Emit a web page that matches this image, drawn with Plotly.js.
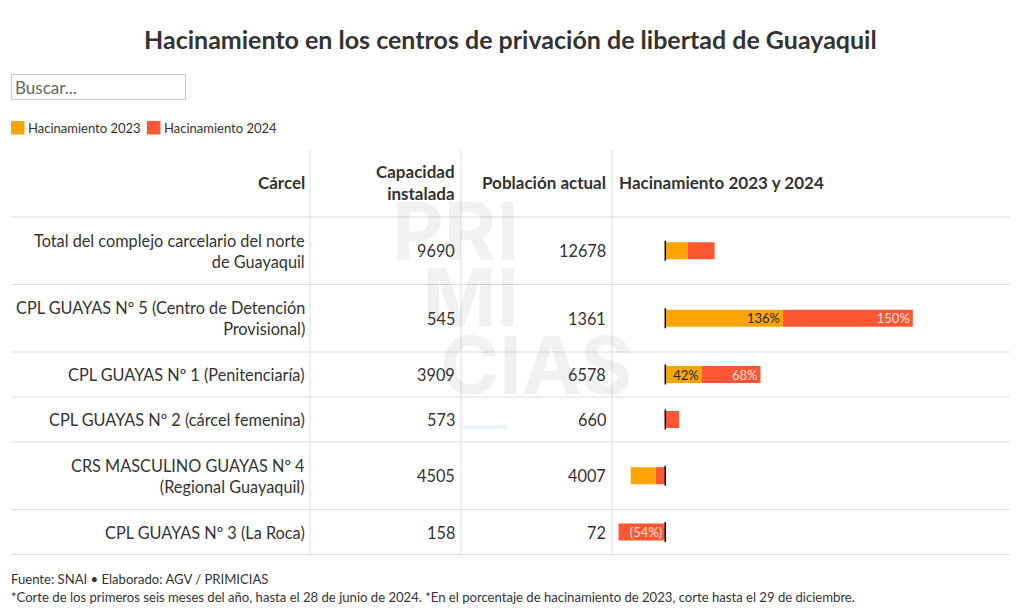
<!DOCTYPE html>
<html>
<head>
<meta charset="utf-8">
<script src="https://cdn.plot.ly/plotly-3.0.1.min.js"></script>
<style>
  html, body { margin: 0; padding: 0; background: #fff; }
  #chart { width: 1020px; height: 616px; }
</style>
</head>
<body>
<div id="chart"></div>
<script>
// ---- Data ----
const titulo = "Hacinamiento en los centros de privación de libertad de Guayaquil";
const carcel = [
  "Total del complejo carcelario del norte<br>de Guayaquil",
  "CPL GUAYAS Nº 5 (Centro de Detención<br>Provisional)",
  "CPL GUAYAS Nº 1 (Penitenciaría)",
  "CPL GUAYAS Nº 2 (cárcel femenina)",
  "CRS MASCULINO GUAYAS Nº 4<br>(Regional Guayaquil)",
  "CPL GUAYAS Nº 3 (La Roca)"
];
const capacidad = [9690, 545, 3909, 573, 4505, 158];
const poblacion = [12678, 1361, 6578, 660, 4007, 72];
const hac2023 = [26, 136, 42, 0, -29, 0];
const hac2024 = [31, 150, 68, 16, -11, -54];
const encabezados = ["Cárcel", "Capacidad<br>instalada", "Población actual", "Hacinamiento 2023 y 2024"];
const series = ["Hacinamiento 2023", "Hacinamiento 2024"];
const fuente = "Fuente: SNAI • Elaborado: AGV / PRIMICIAS";
const nota = "*Corte de los primeros seis meses del año, hasta el 28 de junio de 2024. *En el porcentaje de hacinamiento de 2023, corte hasta el 29 de diciembre.";

// ---- Styles / layout ----
const W = 1020, H = 616;
const C23 = "#ffa500", C24 = "#ff5733";
const FONT = "Lato, 'Source Sans Pro', sans-serif";
const TXT = "#333333";
const GRID = "#dddddd";
const P = x => x / W;

const tableTop = 150, headerH = 67;
const colR = [306.5, 457, 608];
const colSep = [310, 461, 612];
const barLeft = 613, barRight = 1010, zeroPx = 665.3, pxPerUnit = 0.8655;
const xMin = -(zeroPx - barLeft) / pxPerUnit, xMax = (barRight - zeroPx) / pxPerUnit;

// row geometry derived from line count of each label
const bounds = [tableTop + headerH];
carcel.forEach(c => {
  const n = c.split("<br>").length;
  bounds.push(bounds[bounds.length - 1] + 22.5 * (n + 1));
});
const centers = carcel.map((_, i) => (bounds[i] + bounds[i + 1]) / 2);

const lab = v => (v === null || Math.abs(v) < 35) ? "" : (v < 0 ? "(" + (-v) + "%)" : v + "%");

const neg24 = hac2024.map(v => v < 0 ? v : 0);
const pos24 = hac2024.map(v => v > 0 ? v : 0);

const common = {
  type: "bar", orientation: "h", y: centers, width: 17,
  textposition: "inside", insidetextanchor: "end", textangle: 0,
  hoverinfo: "skip", showlegend: false, cliponaxis: false,
  constraintext: "none"
};
const traces = [
  Object.assign({}, common, {
    name: series[1], x: neg24, marker: {color: C24}, insidetextanchor: "start",
    text: neg24.map(lab), textfont: {family: FONT, size: 13, color: "rgba(255,255,255,0.85)"}
  }),
  Object.assign({}, common, {
    name: series[0], x: hac2023, marker: {color: C23},
    text: hac2023.map(lab), textfont: {family: FONT, size: 13, color: "#222"}
  }),
  Object.assign({}, common, {
    name: series[1], x: pos24, marker: {color: C24},
    text: pos24.map(lab), textfont: {family: FONT, size: 13, color: "rgba(255,255,255,0.85)"}
  })
];

const shapes = [];
const ann = [];

// watermark
const wm = {family: "Inter, Lato, sans-serif", size: 80, color: "rgba(0,0,0,0.055)", weight: 800};
ann.push({xref: "paper", yref: "y", x: P(521), y: 230, text: "<b>PRI</b>", showarrow: false, xanchor: "right", yanchor: "middle", font: wm});
ann.push({xref: "paper", yref: "y", x: P(521), y: 296, text: "<b>MI</b>", showarrow: false, xanchor: "right", yanchor: "middle", font: wm});
ann.push({xref: "paper", yref: "y", x: P(438), y: 364, text: "<b>CIAS</b>", showarrow: false, xanchor: "left", yanchor: "middle", font: wm});
shapes.push({type: "rect", xref: "paper", yref: "y", x0: P(462), x1: P(507), y0: 425, y1: 429, fillcolor: "#eaf4fb", line: {width: 0}, layer: "below"});

// title
ann.push({xref: "paper", yref: "y", x: 0.5, y: 39, text: "<b>" + titulo + "</b>", showarrow: false, xanchor: "center", yanchor: "middle",
  font: {family: FONT, size: 25, color: TXT}});

// search box
shapes.push({type: "rect", xref: "paper", yref: "y", x0: P(11.5), x1: P(185.5), y0: 74.5, y1: 99.5, line: {color: "#c8c8c8", width: 1}, fillcolor: "#fff"});
ann.push({xref: "paper", yref: "y", x: P(13), y: 87, text: "Buscar...", showarrow: false, xanchor: "left", yanchor: "middle",
  font: {family: FONT, size: 17, color: "#666"}});

// legend (custom)
const legX = [11, 147];
series.forEach((s, i) => {
  shapes.push({type: "rect", xref: "paper", yref: "y", x0: P(legX[i]), x1: P(legX[i] + 13.5), y0: 121, y1: 134.5,
    fillcolor: i === 0 ? C23 : C24, line: {width: 0}});
  ann.push({xref: "paper", yref: "y", x: P(legX[i] + 15), y: 128, text: s, showarrow: false, xanchor: "left", yanchor: "middle",
    font: {family: FONT, size: 13, color: TXT}});
});

// table grid
bounds.forEach(b => {
  shapes.push({type: "line", xref: "paper", yref: "y", x0: P(11), x1: P(1010), y0: b, y1: b, line: {color: GRID, width: 1}, layer: "below"});
});
colSep.forEach(x => {
  shapes.push({type: "line", xref: "paper", yref: "y", x0: P(x), x1: P(x), y0: tableTop, y1: bounds[bounds.length - 1], line: {color: GRID, width: 1}, layer: "below"});
});

// headers
const hy = tableTop + headerH / 2 - 1;
const hfont = {family: FONT, size: 17, color: TXT};
ann.push({xref: "paper", yref: "y", x: P(colR[0]), y: hy, text: "<b>" + encabezados[0] + "</b>", showarrow: false, xanchor: "right", yanchor: "middle", font: hfont});
ann.push({xref: "paper", yref: "y", x: P(colR[1]), y: hy, text: "<b>" + encabezados[1] + "</b>", showarrow: false, xanchor: "right", yanchor: "middle", align: "right", font: hfont});
ann.push({xref: "paper", yref: "y", x: P(colR[2]), y: hy, text: "<b>" + encabezados[2] + "</b>", showarrow: false, xanchor: "right", yanchor: "middle", font: hfont});
ann.push({xref: "paper", yref: "y", x: P(617), y: hy, text: "<b>" + encabezados[3] + "</b>", showarrow: false, xanchor: "left", yanchor: "middle", font: hfont});

// body
const bfont = {family: FONT, size: 16.3, color: TXT};
carcel.forEach((c, i) => {
  const y = centers[i];
  ann.push({xref: "paper", yref: "y", x: P(colR[0]), y: y, text: c, showarrow: false, xanchor: "right", yanchor: "middle", align: "right", font: bfont});
  ann.push({xref: "paper", yref: "y", x: P(colR[1]), y: y, text: String(capacidad[i]), showarrow: false, xanchor: "right", yanchor: "middle", font: bfont});
  ann.push({xref: "paper", yref: "y", x: P(colR[2]), y: y, text: String(poblacion[i]), showarrow: false, xanchor: "right", yanchor: "middle", font: bfont});
  shapes.push({type: "line", xref: "x", yref: "y", x0: 0, x1: 0, y0: y - 10, y1: y + 10, line: {color: "#000", width: 1.5}, layer: "above"});
});

// footer
ann.push({xref: "paper", yref: "y", x: P(9), y: 579, text: fuente, showarrow: false, xanchor: "left", yanchor: "middle", font: {family: FONT, size: 13.1, color: TXT}});
ann.push({xref: "paper", yref: "y", x: P(9), y: 597, text: nota, showarrow: false, xanchor: "left", yanchor: "middle", font: {family: FONT, size: 13.1, color: TXT}});

const layout = {
  width: W, height: H,
  margin: {l: 0, r: 0, t: 0, b: 0, pad: 0},
  paper_bgcolor: "#fff", plot_bgcolor: "rgba(0,0,0,0)",
  barmode: "relative",
  showlegend: false,
  font: {family: FONT, color: TXT},
  xaxis: {domain: [P(barLeft), P(barRight)], range: [xMin, xMax], visible: false, fixedrange: true},
  yaxis: {domain: [0, 1], range: [H, 0], visible: false, fixedrange: true},
  shapes: shapes,
  annotations: ann
};

Plotly.newPlot("chart", traces, layout, {displayModeBar: false, staticPlot: true});
</script>
</body>
</html>
